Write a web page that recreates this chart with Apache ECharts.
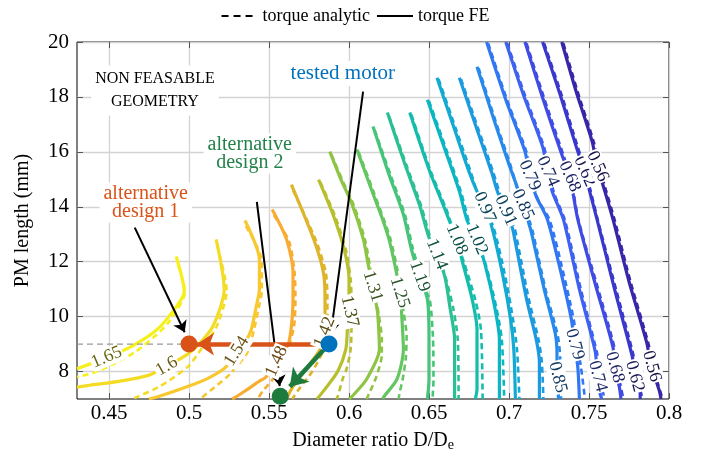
<!DOCTYPE html>
<html>
<head>
<meta charset="utf-8">
<title>PM length / diameter ratio</title>
<script src="https://cdn.jsdelivr.net/npm/echarts@6/dist/echarts.min.js"></script>
<style>
  body { margin: 0; background: #fff; }
  #main { width: 710px; height: 457px; }
</style>
</head>
<body>
<div id="main"></div>
<script>
// contour levels, left to right
var levels = ['1.65', '1.6', '1.54', '1.48', '1.42', '1.37', '1.31', '1.25', '1.19', '1.14',
              '1.08', '1.02', '0.97', '0.91', '0.85', '0.79', '0.74', '0.68', '0.62', '0.56'];

// torque FE contours (solid)
var feLines = [
  [[0.492,12.19],[0.497,10.92],[0.486,9.90],[0.478,9.43],[0.463,8.88],[0.449,8.52],[0.43,8.10]],
  [[0.517,12.81],[0.522,10.99],[0.515,9.65],[0.505,8.92],[0.498,8.59],[0.486,8.19],[0.475,7.87],[0.457,7.65],[0.438,7.50],[0.43,7.43]],
  [[0.535,13.50],[0.544,12.08],[0.544,10.99],[0.542,10.37],[0.539,9.54],[0.536,9.17],[0.530,8.74],[0.523,8.16],[0.513,7.79],[0.500,7.47],[0.480,7.07],[0.475,7.0]],
  [[0.552,13.90],[0.561,12.81],[0.565,11.61],[0.565,10.63],[0.564,9.65],[0.562,8.99],[0.555,8.37],[0.548,7.79],[0.544,7.65],[0.535,7.29],[0.530,7.10],[0.527,7.0]],
  [[0.564,14.81],[0.578,12.81],[0.584,11.61],[0.585,10.63],[0.585,9.97],[0.585,9.43],[0.582,8.81],[0.573,8.08],[0.564,7.36],[0.561,7.0]],
  [[0.581,14.99],[0.590,13.72],[0.597,12.45],[0.600,11.36],[0.600,10.74],[0.600,10.19],[0.599,9.54],[0.598,8.81],[0.593,8.01],[0.585,7.36],[0.580,7.0]],
  [[0.588,16.01],[0.595,14.99],[0.602,14.08],[0.609,12.81],[0.612,11.90],[0.615,11.10],[0.617,10.45],[0.618,10.08],[0.619,8.81],[0.611,7.72],[0.602,7.10],[0.600,7.0]],
  [[0.605,16.08],[0.614,14.63],[0.621,13.54],[0.625,12.81],[0.629,11.79],[0.632,10.88],[0.633,10.01],[0.634,8.81],[0.630,7.72],[0.622,7.10],[0.621,7.0]],
  [[0.615,16.92],[0.625,15.17],[0.634,13.72],[0.639,12.45],[0.644,11.47],[0.649,10.63],[0.650,9.17],[0.650,7.72],[0.649,7.0]],
  [[0.624,17.43],[0.635,15.54],[0.644,14.08],[0.650,12.88],[0.655,12.27],[0.660,11.43],[0.663,10.37],[0.666,9.17],[0.666,7.0]],
  [[0.638,17.43],[0.650,15.36],[0.660,13.90],[0.667,12.81],[0.671,11.97],[0.677,10.63],[0.680,9.54],[0.680,7.36],[0.679,7.0]],
  [[0.649,17.90],[0.660,16.08],[0.669,14.56],[0.674,13.47],[0.680,12.81],[0.685,11.90],[0.691,10.37],[0.694,9.17],[0.694,7.25],[0.694,7.0]],
  [[0.655,18.70],[0.666,16.81],[0.675,15.28],[0.680,14.56],[0.685,13.98],[0.689,13.32],[0.696,11.54],[0.701,9.90],[0.703,8.81],[0.704,7.0]],
  [[0.669,18.70],[0.680,16.81],[0.689,15.28],[0.693,14.52],[0.698,13.87],[0.702,13.25],[0.704,12.70],[0.711,10.63],[0.717,9.17],[0.719,8.34],[0.719,7.0]],
  [[0.680,19.10],[0.691,17.10],[0.700,15.54],[0.705,14.74],[0.709,14.08],[0.712,13.47],[0.714,13.07],[0.722,10.99],[0.729,9.36],[0.730,8.63],[0.730,7.79],[0.731,7.0]],
  [[0.686,20.0],[0.698,17.90],[0.710,16.01],[0.713,15.14],[0.717,14.38],[0.724,13.54],[0.732,11.72],[0.739,9.90],[0.741,8.99],[0.743,8.16],[0.744,7.0]],
  [[0.698,20.0],[0.709,18.08],[0.721,16.19],[0.724,15.29],[0.727,14.56],[0.734,13.54],[0.744,10.99],[0.754,8.70],[0.755,7.83],[0.757,7.18],[0.758,7.0]],
  [[0.710,20.0],[0.721,17.97],[0.733,15.90],[0.738,15.10],[0.743,13.54],[0.754,11.17],[0.765,8.88],[0.766,8.16],[0.769,7.43],[0.770,7.0]],
  [[0.721,20.0],[0.732,18.08],[0.742,16.19],[0.747,15.29],[0.755,13.54],[0.766,10.99],[0.777,8.56],[0.779,7.83],[0.782,7.18],[0.782,7.0]],
  [[0.733,20.0],[0.742,18.19],[0.752,16.37],[0.755,15.47],[0.759,14.74],[0.765,13.54],[0.775,11.28],[0.786,9.07],[0.789,8.19],[0.794,7.29],[0.795,7.0]]
];

// torque analytic contours (dashed)
var anLines = [
  [[0.493,11.9],[0.4975,10.9],[0.488,9.85],[0.479,9.3],[0.466,8.7],[0.452,8.25],[0.440,7.95],[0.43,7.8]],
  [[0.5175,12.6],[0.5235,10.95],[0.517,9.6],[0.508,8.85],[0.499,8.16],[0.482,7.47],[0.467,7.06],[0.464,7.0]],
  [[0.5355,13.3],[0.5455,12.0],[0.5455,10.95],[0.5435,10.3],[0.5405,9.5],[0.5365,8.7],[0.5255,7.9],[0.516,7.43],[0.507,7.0]],
  [[0.553,13.7],[0.5625,12.75],[0.566,11.6],[0.5665,10.6],[0.5655,9.6],[0.5605,8.63],[0.5523,7.72],[0.5461,7.29],[0.543,7.0]],
  [[0.565,14.6],[0.5795,12.75],[0.5855,11.6],[0.5865,10.6],[0.5865,9.9],[0.584,8.8],[0.577,8.0],[0.568,7.3],[0.5645,7.0]],
  [[0.582,14.9],[0.591,13.7],[0.598,12.45],[0.601,11.36],[0.6015,10.7],[0.6015,9.5],[0.601,8.8],[0.5985,8.1],[0.596,7.72],[0.593,7.1],[0.592,7.0]],
  [[0.589,15.9],[0.596,14.95],[0.603,14.05],[0.610,12.8],[0.6135,11.7],[0.6155,11.1],[0.6185,10.1],[0.6205,9.2],[0.6205,8.6],[0.617,7.8],[0.613,7.25],[0.611,7.0]],
  [[0.606,16.0],[0.615,14.6],[0.622,13.5],[0.626,12.8],[0.630,11.78],[0.632,11.0],[0.634,10.2],[0.636,9.29],[0.6355,8.5],[0.6335,7.7],[0.6317,7.25],[0.631,7.0]],
  [[0.616,16.8],[0.626,15.15],[0.635,13.7],[0.640,12.45],[0.6425,11.95],[0.646,11.2],[0.6505,10.6],[0.6525,9.2],[0.6528,7.7],[0.6522,7.0]],
  [[0.625,17.3],[0.636,15.5],[0.645,14.05],[0.651,12.85],[0.656,12.2],[0.6605,11.4],[0.665,10.35],[0.668,9.15],[0.6685,7.0]],
  [[0.639,17.35],[0.651,15.3],[0.661,13.88],[0.664,13.35],[0.6705,12.2],[0.672,11.95],[0.679,10.6],[0.6825,9.5],[0.6835,7.0]],
  [[0.650,17.85],[0.661,16.05],[0.670,14.53],[0.675,13.45],[0.6785,12.9],[0.6855,11.88],[0.692,10.35],[0.6955,9.15],[0.697,7.0]],
  [[0.656,18.65],[0.667,16.8],[0.676,15.28],[0.6815,14.3],[0.690,13.3],[0.6975,11.5],[0.7025,9.9],[0.705,8.8],[0.7065,7.0]],
  [[0.670,18.65],[0.681,16.8],[0.690,15.28],[0.6965,14.1],[0.7035,13.2],[0.7055,12.65],[0.7125,10.6],[0.7185,9.15],[0.7205,8.35],[0.7215,7.0]],
  [[0.681,19.05],[0.692,17.05],[0.701,15.5],[0.708,14.1],[0.713,13.45],[0.715,13.05],[0.723,10.95],[0.7305,9.3],[0.732,8.5],[0.7325,7.0]],
  [[0.687,19.95],[0.699,17.85],[0.711,15.98],[0.7175,14.35],[0.7255,13.5],[0.7335,11.7],[0.7405,9.88],[0.7425,9.0],[0.745,8.15],[0.7475,7.0]],
  [[0.699,19.95],[0.710,18.05],[0.722,16.15],[0.728,14.53],[0.735,13.5],[0.745,10.97],[0.755,8.68],[0.757,7.85],[0.7595,7.0]],
  [[0.711,19.95],[0.722,17.95],[0.734,15.88],[0.7385,15.08],[0.7435,13.5],[0.755,11.15],[0.766,8.86],[0.7675,8.14],[0.7715,7.0]],
  [[0.722,19.95],[0.733,18.05],[0.743,16.17],[0.748,15.27],[0.7555,13.52],[0.767,10.97],[0.778,8.54],[0.780,7.82],[0.7835,7.0]],
  [[0.734,19.95],[0.743,18.17],[0.753,16.35],[0.7565,15.45],[0.760,14.72],[0.766,13.52],[0.776,11.26],[0.787,9.05],[0.790,8.18],[0.796,7.0]]
];

// contour label spots: [level index, x, y, angle]
var labelAt = [
  [0, 0.4486, 8.52, 23], [1, 0.4861, 8.19, 30], [2, 0.5298, 8.74, 58], [3, 0.5548, 8.37, 66],
  [4, 0.5848, 9.43, 68], [5, 0.6004, 10.19, -77], [6, 0.6148, 11.10, -73], [7, 0.6317, 10.88, -73],
  [8, 0.6442, 11.47, -71], [9, 0.6548, 12.27, -68], [10, 0.6673, 12.81, -67], [11, 0.6798, 12.81, -67],
  [12, 0.6848, 13.98, -66], [13, 0.6979, 13.87, -66], [14, 0.7086, 14.08, -66], [14, 0.7304, 7.79, -76],
  [15, 0.7129, 15.14, -66], [15, 0.7411, 8.99, -75], [16, 0.7242, 15.29, -66], [16, 0.7554, 7.83, -75],
  [17, 0.7379, 15.10, -66], [17, 0.7661, 8.16, -75], [18, 0.7473, 15.29, -66], [18, 0.7786, 7.83, -75],
  [19, 0.7554, 15.47, -66], [19, 0.7892, 8.19, -75]
];

// design points
var testedMotor = [0.5875, 9];
var design1 = [0.5, 9];
var design2 = [0.557, 7.1];

// annotation anchors
var noteNonFeasible = [0.4787, 18.23];
var noteTested = [0.5961, 18.85];
var noteDesign2 = [0.538, 15.94];
var noteDesign1 = [0.4729, 14.16];
var pointerTested = [[0.6088, 18.19], [0.5886, 9.35]];
var pointerDesign2 = [[0.5424, 14.18], [0.5567, 7.47]];
var pointerDesign1 = [[0.4661, 13.24], [0.4973, 9.43]];
var moveTo1 = [testedMotor, [0.505, 9]];
var moveTo2 = [testedMotor, [0.563, 7.45]];
var guide9 = [[0.43, 9], [0.5, 9]];

var xTicks = [0.45, 0.5, 0.55, 0.6, 0.65, 0.7, 0.75, 0.8];
var yTicks = [8, 10, 12, 14, 16, 18, 20];

var lineColors = ['#f6f01a', '#f5dc24', '#f9c72e', '#f8ad32', '#deb52a', '#b7bf2c', '#8dc444', '#64c660',
                  '#45c47a', '#2ac093', '#14bcab', '#0cb5c2', '#12a9d3', '#1c9ae0', '#2789ec', '#3176f2',
                  '#3d61f0', '#3f4be3', '#3a38cc', '#3726a8'];
var serif = 'Liberation Serif';
var cBlue = '#0072bd', cOrange = '#d95319', cGreen = '#1e7b3e';

function darken(hex, f) {
  var n = parseInt(hex.slice(1), 16);
  var r = Math.round(((n >> 16) & 255) * f), g = Math.round(((n >> 8) & 255) * f), b = Math.round((n & 255) * f);
  return 'rgb(' + r + ',' + g + ',' + b + ')';
}

var chart = echarts.init(document.getElementById('main'));

var series = [];
// legend entries
series.push({ name: 'torque analytic', type: 'line', data: [], symbol: 'none',
  itemStyle: { color: '#000' }, lineStyle: { color: '#000', width: 3, type: [7, 5] } });
series.push({ name: 'torque FE', type: 'line', data: [], symbol: 'none',
  itemStyle: { color: '#000' }, lineStyle: { color: '#000', width: 3 } });

levels.forEach(function (lv, i) {
  series.push({
    type: 'line', name: 'an ' + lv, data: anLines[i], symbol: 'none', smooth: 0.25, silent: true, z: 3,
    lineStyle: { color: lineColors[i], width: 2.6, type: [6, 4] }
  });
  series.push({
    type: 'line', name: 'fe ' + lv, data: feLines[i], symbol: 'none', smooth: 0.25, silent: true, z: 4,
    lineStyle: { color: lineColors[i], width: 3.2 }
  });
});

// contour labels
series.push({
  type: 'scatter', name: 'levels', silent: true, z: 10, symbolSize: 1,
  itemStyle: { color: 'transparent', opacity: 1 },
  label: { show: true, position: 'inside', fontFamily: serif, fontSize: 18, backgroundColor: '#fff', padding: [0, 1], opacity: 1 },
  data: labelAt.map(function (d) {
    return { value: [d[1], d[2]],
      label: { formatter: levels[d[0]], rotate: d[3], color: darken(lineColors[d[0]], 0.42) } };
  })
});

// grey guide at y = 9
series.push({
  type: 'line', name: 'guide', data: guide9, symbol: 'none', silent: true, z: 12,
  lineStyle: { color: '#999', width: 1.4, type: [6, 4] }
});

// pointers and moves
series.push({
  type: 'line', name: 'arrows', data: [], silent: true, z: 14,
  markLine: {
    silent: true, animation: false, symbol: ['none', 'arrow'], label: { show: false },
    lineStyle: { type: 'solid', opacity: 1 },
    emphasis: { disabled: true },
    data: [
      [{ coord: pointerTested[0], lineStyle: { color: '#000', width: 2, type: 'solid' }, symbolSize: 0 }, { coord: pointerTested[1], symbolSize: 11 }],
      [{ coord: pointerDesign2[0], lineStyle: { color: '#000', width: 2, type: 'solid' }, symbolSize: 0 }, { coord: pointerDesign2[1], symbolSize: 11 }],
      [{ coord: pointerDesign1[0], lineStyle: { color: '#000', width: 2, type: 'solid' }, symbolSize: 0 }, { coord: pointerDesign1[1], symbolSize: 11 }],
      [{ coord: moveTo1[0], lineStyle: { color: cOrange, width: 4.5, type: 'solid' }, symbolSize: 0 }, { coord: moveTo1[1], symbolSize: 17 }],
      [{ coord: moveTo2[0], lineStyle: { color: cGreen, width: 4.5, type: 'solid', curveness: 0.15 }, symbolSize: 0 }, { coord: moveTo2[1], symbolSize: 17 }]
    ]
  }
});

// design dots
series.push({
  type: 'scatter', name: 'designs', silent: true, z: 16, symbolSize: 17,
  data: [
    { value: testedMotor, itemStyle: { color: cBlue, opacity: 1 } },
    { value: design1, itemStyle: { color: cOrange, opacity: 1 } },
    { value: design2, itemStyle: { color: cGreen, opacity: 1 } }
  ]
});

// notes
series.push({
  type: 'scatter', name: 'notes', silent: true, z: 18, symbolSize: 1,
  itemStyle: { color: 'transparent', opacity: 1 },
  label: { show: true, position: 'inside', fontFamily: serif, align: 'center', backgroundColor: '#fff', padding: [2, 4], opacity: 1 },
  data: [
    { value: noteNonFeasible, label: { formatter: 'NON FEASABLE\nGEOMETRY', fontSize: 16, lineHeight: 23, color: '#000' } },
    { value: noteTested, label: { formatter: 'tested motor', fontSize: 21, color: cBlue } },
    { value: noteDesign2, label: { formatter: 'alternative\ndesign 2', fontSize: 20, lineHeight: 18, color: '#23824a' } },
    { value: noteDesign1, label: { formatter: 'alternative\ndesign 1', fontSize: 20, lineHeight: 18, color: cOrange } }
  ]
});

var option = {
  animation: false,
  backgroundColor: '#fff',
  legend: {
    data: ['torque analytic', 'torque FE'],
    top: 2, left: 'center', itemWidth: 36, itemHeight: 14, itemGap: 6,
    itemStyle: { opacity: 0 },
    textStyle: { fontFamily: serif, fontSize: 18, color: '#000' }
  },
  grid: { left: 77, right: 41, top: 42, bottom: 57, show: true, borderColor: '#000', borderWidth: 1 },
  xAxis: [{
    type: 'value', min: 0.43, max: 0.8,
    axisLine: { show: false },
    axisTick: { show: true, inside: true, length: 6, customValues: xTicks, lineStyle: { color: '#555' } },
    axisLabel: { customValues: xTicks, margin: 4, fontFamily: serif, fontSize: 21, color: '#000',
      formatter: function (v) { return String(+v.toFixed(2)); } },
    splitLine: { show: true, lineStyle: { color: '#d3d3d3', width: 1.3 } },
    name: 'Diameter ratio D/D{sub|e}', nameLocation: 'middle', nameGap: 30,
    nameTextStyle: { fontFamily: serif, fontSize: 20, color: '#000',
      rich: { sub: { fontFamily: serif, fontSize: 14, padding: [9, 0, 0, 0], color: '#000' } } }
  }, {
    type: 'value', min: 0.43, max: 0.8, position: 'top',
    axisLine: { show: false },
    axisTick: { show: true, inside: true, length: 6, customValues: xTicks, lineStyle: { color: '#555' } },
    axisLabel: { show: false }, splitLine: { show: false }
  }],
  yAxis: [{
    type: 'value', min: 7, max: 20,
    axisLine: { show: false },
    axisTick: { show: true, inside: true, length: 6, customValues: yTicks, lineStyle: { color: '#555' } },
    axisLabel: { customValues: yTicks, margin: 8, fontFamily: serif, fontSize: 21, color: '#000' },
    splitLine: { show: true, lineStyle: { color: '#d3d3d3', width: 1.3 } },
    name: 'PM length (mm)', nameLocation: 'middle', nameGap: 44, nameRotate: 90,
    nameTextStyle: { fontFamily: serif, fontSize: 20, color: '#000' }
  }, {
    type: 'value', min: 7, max: 20, position: 'right',
    axisLine: { show: false },
    axisTick: { show: true, inside: true, length: 6, customValues: yTicks, lineStyle: { color: '#555' } },
    axisLabel: { show: false }, splitLine: { show: false }
  }],
  series: series
};

chart.setOption(option);
</script>
</body>
</html>
